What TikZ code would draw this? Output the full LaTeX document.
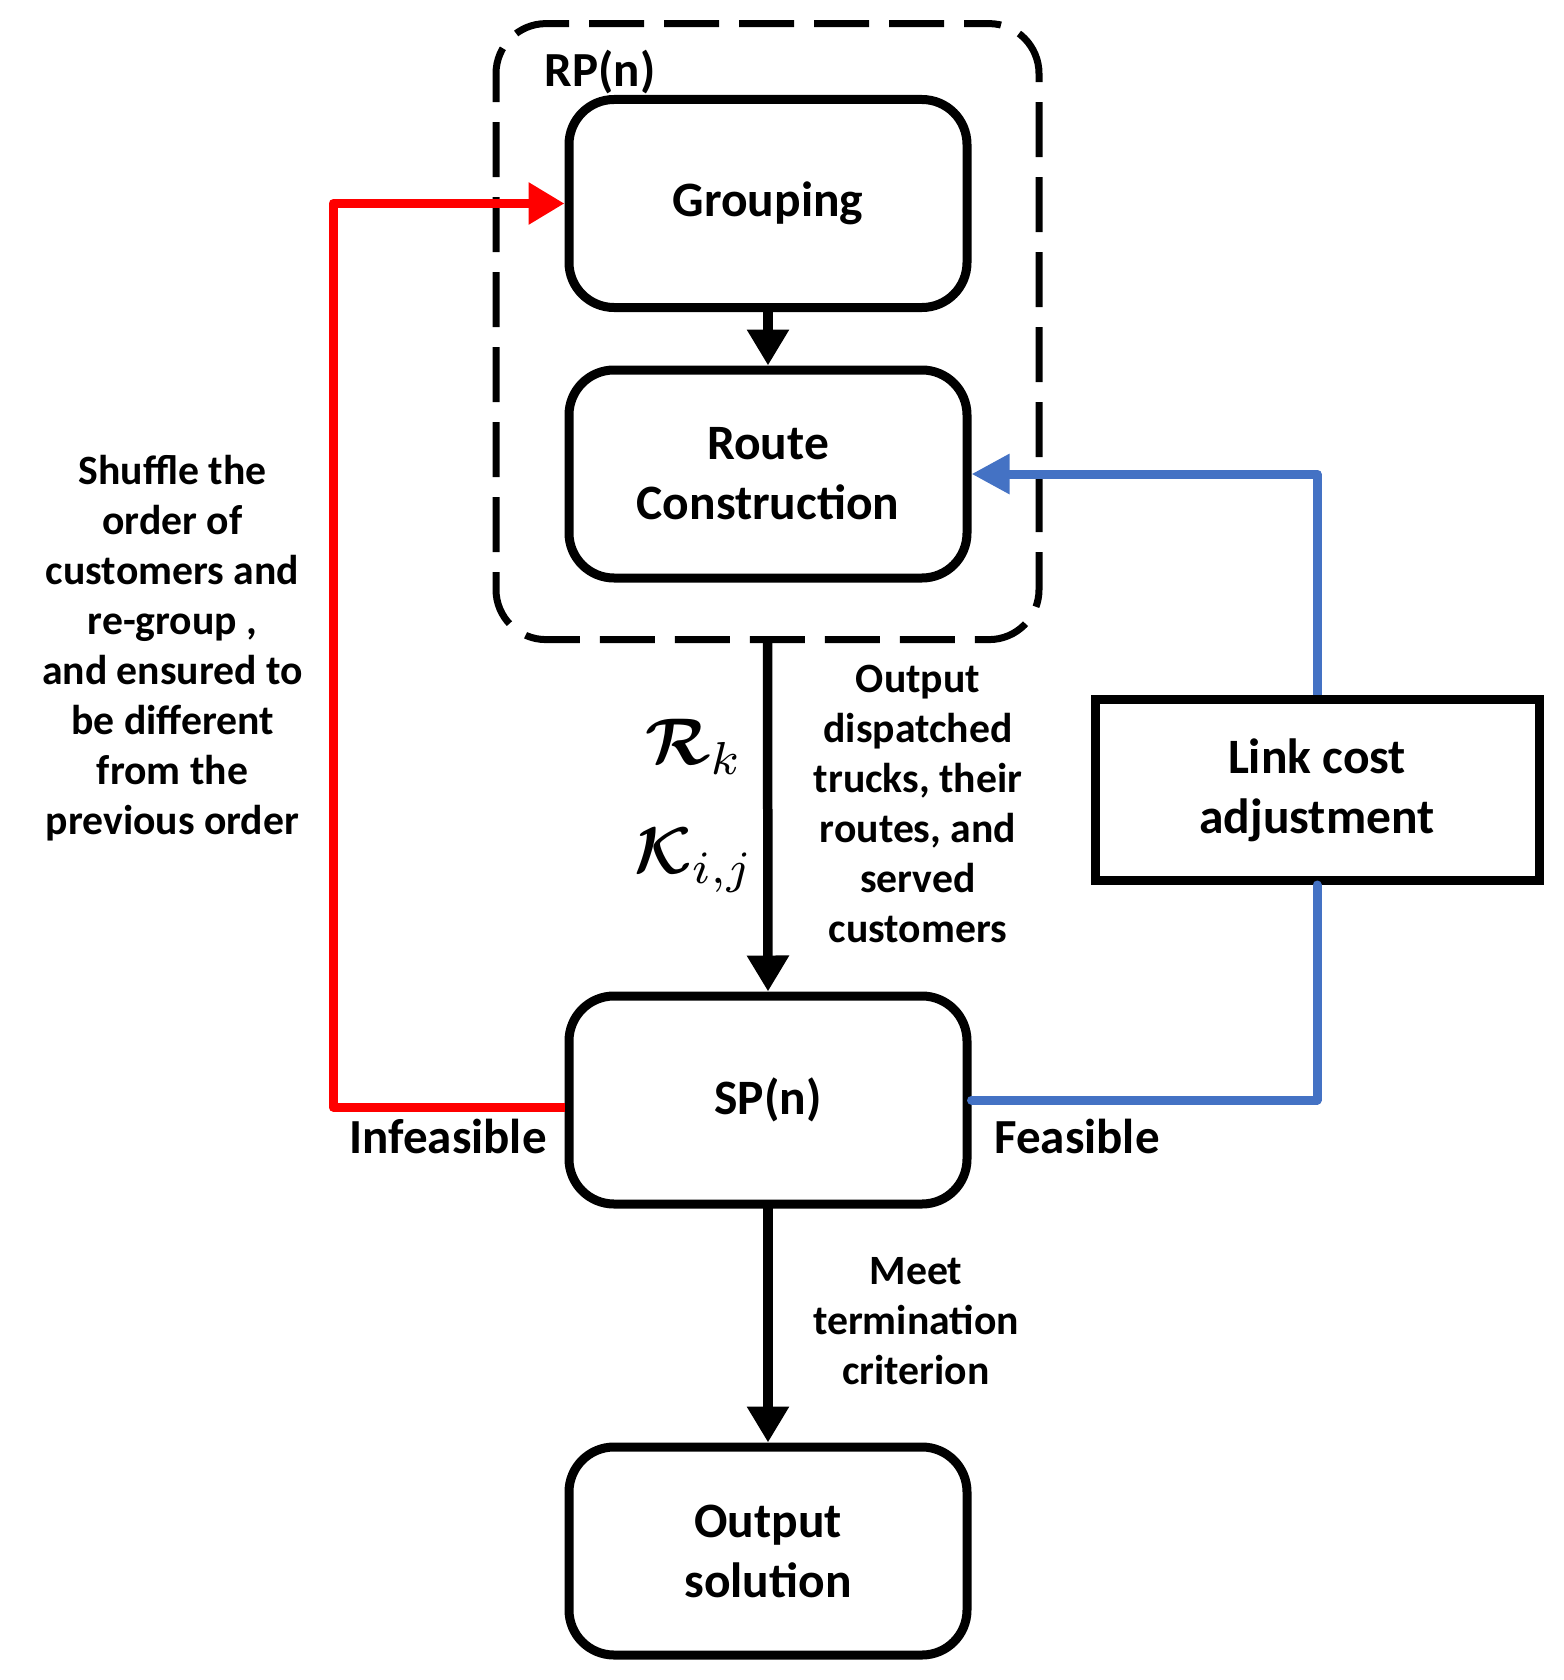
\documentclass[tikz,border=0pt]{standalone}
\usepackage{graphicx}
\usepackage{amsmath}
\usepackage{fontspec}
\setmainfont{Carlito}
\usetikzlibrary{arrows.meta}
\definecolor{myblue}{HTML}{4472C4}
\definecolor{myred}{HTML}{FF0000}
\tikzset{
  box/.style={draw, line width=9pt, rounded corners=45pt, minimum width=398pt, minimum height=208pt, inner sep=0pt, align=center, font=\fontsize{49.5}{60}\selectfont\bfseries},
  sqbox/.style={draw, line width=9pt, minimum width=444pt, minimum height=181pt, inner sep=0pt, align=center, font=\fontsize{49.5}{60}\selectfont\bfseries},
  group/.style={draw, line width=7pt, dash pattern=on 55pt off 20pt, dash phase=30pt, rounded corners=50pt, minimum width=543pt, minimum height=616pt, inner sep=0pt},
  flow/.style={line width=9.5pt, line cap=round, -{Triangle[length=36pt,width=40pt]}},
  redflow/.style={draw=myred, line width=9pt, line join=round, -{Triangle[length=36pt,width=40pt]}, color=myred},
  blueflow/.style={draw=myblue, line width=9pt, line join=round, line cap=round, color=myblue},
  lbl/.style={align=center, font=\fontsize{41.7}{50}\selectfont\bfseries, inner sep=0pt},
  biglbl/.style={font=\fontsize{49}{60}\selectfont\bfseries, inner sep=0pt},
  mathlbl/.style={font=\fontsize{10}{12}\selectfont, inner sep=0pt},
}
\begin{document}
\begin{tikzpicture}[x=1pt,y=-1pt]
\useasboundingbox (0,0) rectangle (1563,1680);
\node[group] (rp) at (767.5,331.6) {};
\node[biglbl] (rplabel) at (600,72) {RP(n)};
\node[box] (g) at (768,203.5) {Grouping};
\node[box] (rc) at (768,474) {Route\\Construction};
\node[box] (sp) at (768,1100) {SP(n)};
\node[box] (out) at (768,1551) {Output\\solution};
\node[sqbox] (lk) at (1317,790) {Link cost\\adjustment};

\draw[flow] (g.south) -- (rc.north);
\draw[flow] (rp.south) -- (sp.north);
\draw[flow] (sp.south) -- (out.north);

\coordinate (rl) at (333,1107);
\draw[redflow] ([yshift=-7pt]sp.west) -- (rl) |- (g.west);
\draw[blueflow] (sp.east) -| (lk.south);
\draw[blueflow, line cap=butt, -{Triangle[length=38pt,width=38pt]}] (lk.north) |- (rc.east);

\node[lbl] (shuf) at (172.5,648) {Shuffle the\\order of\\customers and\\re-group ,\\and ensured to\\be different\\from the\\previous order};
\node[lbl] (outtxt) at (918,804) {Output\\dispatched\\trucks, their\\routes, and\\served\\customers};
\node[lbl] (meet) at (916,1321) {Meet\\termination\\criterion};
\node[biglbl] (inf) at (448,1136) {Infeasible};
\node[biglbl] (fea) at (1077,1136) {Feasible};
\node[mathlbl] (rk) at (694,747) {\scalebox{6.6}{$\boldsymbol{\mathcal{R}}_k$}};
\node[mathlbl] (kij) at (694,860) {\scalebox{6.6}{$\boldsymbol{\mathcal{K}}_{i,j}$}};
\end{tikzpicture}
\end{document}
